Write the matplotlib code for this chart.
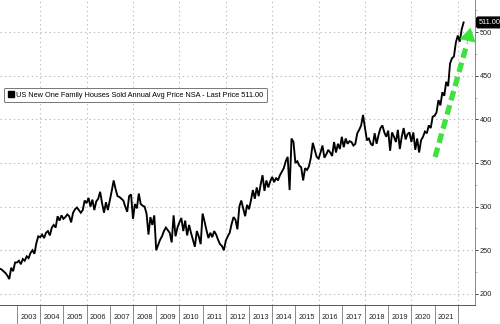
import numpy as np
import matplotlib
matplotlib.use("Agg")
import matplotlib.pyplot as plt
from matplotlib.ticker import FixedLocator, NullFormatter, FixedFormatter
from matplotlib.lines import Line2D

plt.rcParams['font.family'] = ['Liberation Sans', 'DejaVu Sans']
plt.rcParams['lines.scale_dashes'] = False

# Monthly average sale price of new one-family houses, $ thousands (NSA), Apr 2002 - Apr 2022
price_2002 = [229, 228, 226, 224, 221, 217, 230, 226, 236]
price_2003 = [236, 238, 234, 240, 238, 243, 241, 247, 250, 246, 258, 266]
price_2004 = [265, 268, 264, 270, 272, 267, 276, 279, 276, 289, 284, 290]
price_2005 = [286, 288, 291, 289, 282, 293, 297, 299, 296, 293, 296, 307]
price_2006 = [304, 310, 300, 308, 296, 306, 309, 317, 304, 293, 305, 296]
price_2007 = [307, 318, 330, 320, 312, 311, 309, 307, 300, 294, 312, 314]
price_2008 = [286, 303, 298, 315, 303, 301, 300, 292, 268, 288, 279, 290]
price_2009 = [250, 256, 262, 266, 272, 276, 273, 270, 259, 290, 266, 276]
price_2010 = [282, 287, 272, 284, 267, 279, 270, 262, 254, 272, 266, 257]
price_2011 = [292, 283, 273, 264, 270, 265, 272, 268, 262, 257, 255, 250]
price_2012 = [261, 266, 270, 280, 288, 285, 274, 300, 307, 298, 289, 302]
price_2013 = [297, 307, 319, 309, 322, 312, 325, 336, 318, 330, 322, 329]
price_2014 = [334, 328, 333, 330, 336, 340, 344, 352, 357, 319, 378, 374]
price_2015 = [350, 352, 347, 345, 330, 344, 342, 346, 356, 373, 365, 357]
price_2016 = [355, 362, 370, 356, 360, 365, 362, 358, 374, 362, 372, 366]
price_2017 = [380, 368, 378, 372, 375, 374, 370, 372, 384, 388, 393, 405]
price_2018 = [390, 376, 378, 372, 370, 384, 372, 382, 390, 393, 385, 380]
price_2019 = [387, 364, 385, 380, 374, 388, 366, 380, 390, 377, 383, 385]
price_2020 = [374, 385, 365, 378, 362, 376, 380, 386, 384, 393, 390, 403]
price_2021 = [404, 408, 422, 416, 431, 427, 443, 438, 464, 470, 472, 488]
price_2022 = [496, 489, 503, 511]

prices = (price_2002 + price_2003 + price_2004 + price_2005 + price_2006 + price_2007
          + price_2008 + price_2009 + price_2010 + price_2011 + price_2012 + price_2013
          + price_2014 + price_2015 + price_2016 + price_2017 + price_2018 + price_2019
          + price_2020 + price_2021 + price_2022)
start_year = 2002 + 3 / 12
dates = start_year + np.arange(len(prices)) / 12

year_labels = [str(y) for y in range(2003, 2022)]
y_ticks = [200, 250, 300, 350, 400, 450, 500]
last_price = 511.00
legend_label = "US New One Family Houses Sold Annual Avg Price NSA - Last Price 511.00"

W, H = 500, 324
fig = plt.figure(figsize=(W / 100, H / 100), dpi=100)
ax = fig.add_axes([0, 1 - 305 / H, 475 / W, 305 / H])

x0 = 2003 - 17 / 23.2
x1 = 2003 + 458 / 23.2
ax.set_xlim(x0, x1)
ax.set_ylim(187.3, 536.7)

grid_kw = dict(color='#bdbdbd', lw=0.8, ls=(0, (1, 2.2)), zorder=0)
for yv in y_ticks:
    ax.axhline(yv, **grid_kw)
for xv in range(2004, 2023, 2):
    ax.axvline(xv, **grid_kw)

line, = ax.plot(dates, prices, color='black', lw=1.35, zorder=3,
                solid_joinstyle='miter')

# spines
for s in ['left', 'top']:
    ax.spines[s].set_visible(False)
ax.spines['bottom'].set_color('#555555')
ax.spines['bottom'].set_linewidth(0.7)
ax.spines['right'].set_color('#888888')
ax.spines['right'].set_linewidth(0.7)

# x axis: long separators at year boundaries, labels centred in each year
ax.xaxis.set_major_locator(FixedLocator(list(range(2003, 2023))))
ax.xaxis.set_major_formatter(NullFormatter())
ax.xaxis.set_minor_locator(FixedLocator([y + 0.5 for y in range(2003, 2022)]))
ax.xaxis.set_minor_formatter(FixedFormatter(year_labels))
ax.tick_params(axis='x', which='major', direction='out', length=14, width=0.6,
               color='#777777')
ax.tick_params(axis='x', which='minor', length=0, pad=6.5, labelsize=5.3,
               labelcolor='#222222')

# y axis on the right
ax.yaxis.tick_right()
ax.yaxis.set_major_locator(FixedLocator(y_ticks))
ax.yaxis.set_minor_locator(FixedLocator([225, 275, 325, 375, 425, 475, 525]))
ax.tick_params(axis='y', which='major', direction='out', length=2.5, width=0.7,
               color='#444444', pad=1, labelsize=5.3, labelcolor='#222222')
ax.tick_params(axis='y', which='minor', direction='out', length=1.5, width=0.5,
               color='#999999')

# legend
handle = Line2D([], [], color='black', marker='s', markersize=5, lw=0)
leg = ax.legend([handle], [legend_label], loc='upper left',
                bbox_to_anchor=(0.008, 0.712), fontsize=5.3, frameon=True,
                fancybox=True, framealpha=1, edgecolor='#777777',
                handlelength=0.9, handletextpad=0.3, borderpad=0.5,
                borderaxespad=0)
leg.get_frame().set_linewidth(0.7)

# last price tag
ax.annotate(f"{last_price:.2f}", xy=(1.0, last_price), xycoords=('axes fraction', 'data'),
            xytext=(2.5, 0), textcoords='offset points', ha='left', va='center',
            fontsize=5.3, color='white',
            bbox=dict(boxstyle='round,pad=0.25', fc='black', ec='black'),
            annotation_clip=False, zorder=5)

# green trend arrow
green = '#3ee23e'
tail = (2021.02, 356.8)
head_base = (2022.40, 487.0)
tip = (2022.55, 505.0)
ax.plot([tail[0], head_base[0]], [tail[1], head_base[1]], color=green, lw=3.8,
        dashes=(7, 3.6), solid_capstyle='butt', zorder=4)
ax.annotate("", xy=tip, xytext=head_base,
            arrowprops=dict(arrowstyle='-|>,head_length=0.9,head_width=0.55',
                            color=green, lw=0.5, shrinkA=0, shrinkB=0),
            zorder=4)

fig.savefig("out.png", dpi=100)
